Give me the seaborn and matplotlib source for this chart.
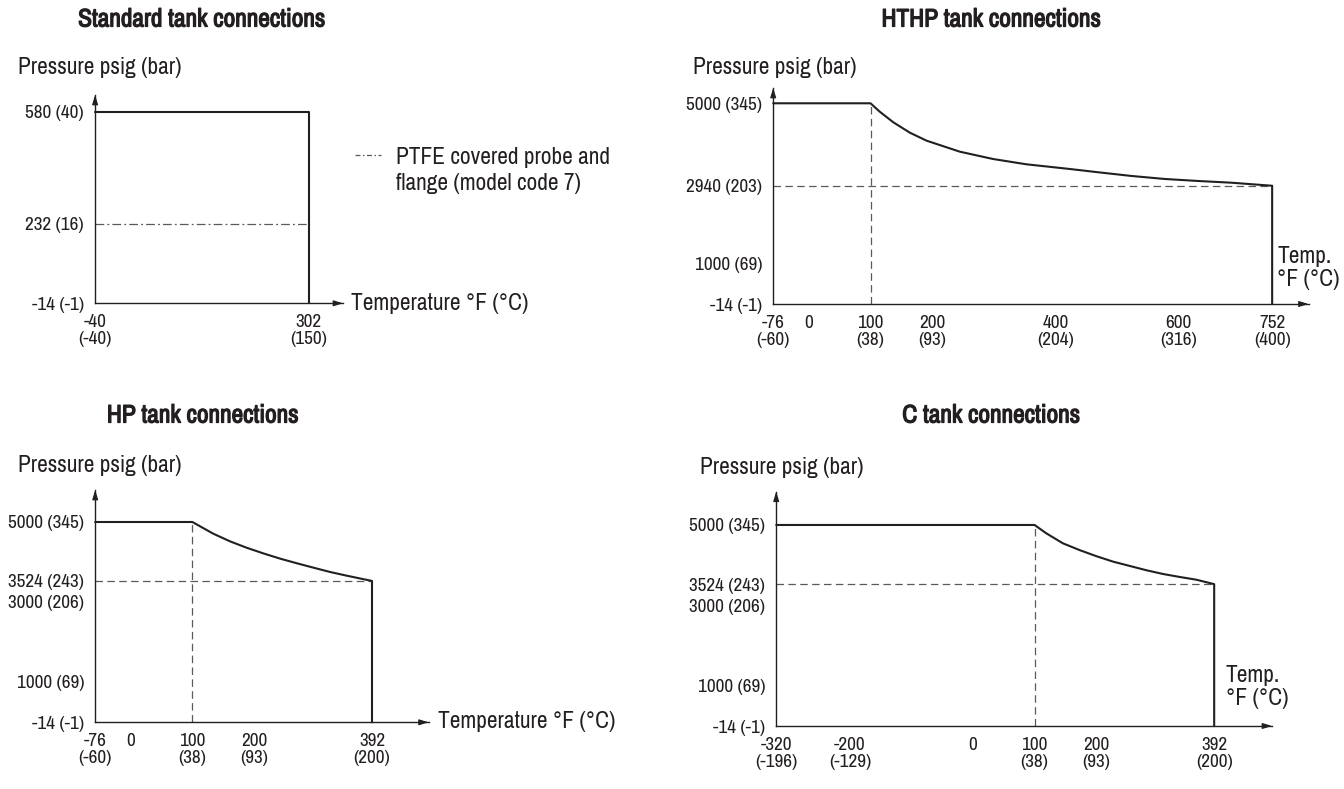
import numpy as np
import pandas as pd
import matplotlib
matplotlib.use("Agg")
import matplotlib.pyplot as plt
import matplotlib.patheffects as pe
import seaborn as sns
from matplotlib import font_manager as fm
from matplotlib.lines import Line2D

# ---------------- data ----------------
# Standard tank connections
std_temp = [-40, 302, 302]
std_press = [580, 580, -14]
std_ptfe_temp = [-40, 302]
std_ptfe_press = [232, 232]
std_xticks = [-40, 302]
std_xlabels = ["-40\n(-40)", "302\n(150)"]
std_yticks = [-14, 232, 580]
std_ylabels = ["-14 (-1)", "232 (16)", "580 (40)"]

# HTHP tank connections
hthp_temp = [-76, 100, 115, 137, 164, 191, 245, 299, 353, 424, 470, 524, 578, 632, 686, 752, 752]
hthp_press = [5000, 5000, 4790, 4525, 4265, 4066, 3791, 3608, 3476, 3358, 3276, 3184, 3109, 3059, 3016, 2940, -14]
hthp_xticks = [-76, 0, 100, 200, 400, 600, 752]
hthp_xlabels = ["-76\n(-60)", "0", "100\n(38)", "200\n(93)", "400\n(204)", "600\n(316)", "752\n(400)"]
hthp_yticks = [-14, 1000, 2940, 5000]
hthp_ylabels = ["-14 (-1)", "1000 (69)", "2940 (203)", "5000 (345)"]
hthp_yminor = [2000, 4000]

# HP tank connections
hp_temp = [-76, 100, 134, 161, 188, 215, 243, 270, 297, 324, 351, 392, 392]
hp_press = [5000, 5000, 4707, 4517, 4357, 4216, 4081, 3966, 3856, 3748, 3656, 3524, -14]
hp_xticks = [-76, 0, 100, 200, 392]
hp_xlabels = ["-76\n(-60)", "0", "100\n(38)", "200\n(93)", "392\n(200)"]
hp_yticks = [-14, 1000, 3000, 3524, 5000]
hp_ylabels = ["-14 (-1)", "1000 (69)", "3000 (206)", "3524 (243)", "5000 (345)"]
hp_yminor = [2000, 4000]

# C tank connections
c_temp = [-320, 100, 119, 146, 174, 201, 228, 255, 282, 309, 336, 363, 392, 392]
c_press = [5000, 5000, 4793, 4543, 4369, 4219, 4084, 3977, 3870, 3777, 3703, 3635, 3524, -14]
c_xticks = [-320, -200, 0, 100, 200, 392]
c_xlabels = ["-320\n(-196)", "-200\n(-129)", "0", "100\n(38)", "200\n(93)", "392\n(200)"]
c_yticks = [-14, 1000, 3000, 3524, 5000]
c_ylabels = ["-14 (-1)", "1000 (69)", "3000 (206)", "3524 (243)", "5000 (345)"]
c_yminor = [2000, 4000]

rated_temp = 100  # knee of the derating curves

# ---------------- style ----------------
sns.set_theme(style="white")

# prefer a narrow face (reference uses a condensed typeface); else Liberation Sans
FONT, SCALE = None, 1.0
for f in fm.fontManager.ttflist:
    if ("Narrow" in f.name or "Condensed" in f.name) and f.style == "normal":
        FONT, SCALE = f.name, 1.2
        break
if FONT is None:
    FONT = "Liberation Sans"
plt.rcParams["font.family"] = [FONT, "DejaVu Sans"]

INK = "#231f20"
DASH = "#5a5a5a"
W, H = 1344, 789
TICK_FS = 11.5 * SCALE
LAB_FS = 14 * SCALE
TITLE_FS = 15.2 * SCALE

fig = plt.figure(figsize=(W / 100, H / 100), dpi=100)
fig.patch.set_facecolor("white")


def px_rect(left, top, right, bottom):
    return [left / W, 1 - bottom / H, (right - left) / W, (bottom - top) / H]


def ftext(x, y, s, **kw):
    return fig.text(x / W, 1 - y / H, s, **kw)


def compress_scale(k):
    fwd = lambda x: np.where(np.asarray(x) < 0, np.asarray(x) * k, np.asarray(x))
    inv = lambda x: np.where(np.asarray(x) < 0, np.asarray(x) / k, np.asarray(x))
    return fwd, inv


def style_axes(ax, xlim, ylim, xticks, xlabels, yticks, ylabels, yminor=None, compress=None):
    if compress is not None:
        ax.set_xscale("function", functions=compress_scale(compress))
    ax.set_xlim(*xlim)
    ax.set_ylim(*ylim)
    ax.set_xticks(xticks)
    ax.set_xticklabels(xlabels, linespacing=1.08)
    ax.set_yticks(yticks)
    ax.set_yticklabels(ylabels)
    if yminor:
        ax.set_yticks(yminor, minor=True)
    for s in ["top", "right"]:
        ax.spines[s].set_visible(False)
    for s in ["left", "bottom"]:
        ax.spines[s].set_color(INK)
        ax.spines[s].set_linewidth(1.0)
    ax.tick_params(axis="both", which="both", direction="out", length=4, width=0.9,
                   color=INK, labelcolor=INK, labelsize=TICK_FS)
    ax.tick_params(axis="x", pad=4)
    ax.tick_params(axis="y", pad=4)
    ax.set_xlabel("")
    ax.set_ylabel("")
    ax.set_facecolor("none")
    ax.grid(False)
    arrow = dict(arrowstyle="-|>,head_length=0.55,head_width=0.17", color=INK, lw=0.9,
                 shrinkA=0, shrinkB=0, mutation_scale=10)
    ax.annotate("", xy=(1, 0), xycoords="axes fraction", xytext=(-6, 0),
                textcoords="offset points", arrowprops=arrow, annotation_clip=False)
    ax.annotate("", xy=(0, 1), xycoords="axes fraction", xytext=(0, -6),
                textcoords="offset points", arrowprops=arrow, annotation_clip=False)


def envelope(ax, temps, press):
    df = pd.DataFrame({"temp": temps, "press": press})
    sns.lineplot(data=df, x="temp", y="press", ax=ax, sort=False, estimator=None,
                 color=INK, lw=1.5, clip_on=False)
    for line in ax.get_lines():
        line.set_solid_joinstyle("round")


def guides(ax, xmin, tmax, pend, ymin):
    sns.lineplot(x=[rated_temp, rated_temp], y=[ymin, 5000], ax=ax, sort=False, estimator=None,
                 color=DASH, lw=0.9, linestyle=(0, (6, 3.5)))
    sns.lineplot(x=[xmin, tmax], y=[pend, pend], ax=ax, sort=False, estimator=None,
                 color=DASH, lw=0.9, linestyle=(0, (6, 3.5)))


# ---------------- Standard ----------------
ax1 = fig.add_axes(px_rect(95.1, 95, 343, 303.3))
sns.lineplot(x=std_ptfe_temp, y=std_ptfe_press, ax=ax1, sort=False, estimator=None,
             color=DASH, lw=0.9, linestyle=(0, (7, 2.5, 1.5, 2.5)))
envelope(ax1, std_temp, std_press)
style_axes(ax1, (-40, 357), (-14, 631.7), std_xticks, std_xlabels, std_yticks, std_ylabels)

# ---------------- HTHP ----------------
ax2 = fig.add_axes(px_rect(773.2, 88, 1308.5, 304))
guides(ax2, hthp_temp[0], hthp_temp[-1], hthp_press[-2], hthp_press[-1])
envelope(ax2, hthp_temp, hthp_press)
style_axes(ax2, (-76, 811), (-14, 5382), hthp_xticks, hthp_xlabels, hthp_yticks, hthp_ylabels,
           hthp_yminor, compress=0.763)

# ---------------- HP ----------------
ax3 = fig.add_axes(px_rect(95.2, 490, 428.6, 722.3))
guides(ax3, hp_temp[0], hp_temp[-1], hp_press[-2], hp_press[-1])
envelope(ax3, hp_temp, hp_press)
style_axes(ax3, (-76, 484), (-14, 5801), hp_xticks, hp_xlabels, hp_yticks, hp_ylabels,
           hp_yminor, compress=0.763)

# ---------------- C ----------------
ax4 = fig.add_axes(px_rect(776.2, 491.7, 1272, 726))
guides(ax4, c_temp[0], c_temp[-1], c_press[-2], c_press[-1])
envelope(ax4, c_temp, c_press)
style_axes(ax4, (-320, 486), (-14, 5830), c_xticks, c_xlabels, c_yticks, c_ylabels, c_yminor)

# ---------------- texts ----------------
bold = [pe.withStroke(linewidth=0.9, foreground=INK)]
ttl = dict(ha="center", va="center", fontsize=TITLE_FS, fontweight="bold", color=INK,
           path_effects=bold)
ftext(201.5, 19, "Standard tank connections", **ttl)
ftext(991, 19, "HTHP tank connections", **ttl)
ftext(202.5, 415, "HP tank connections", **ttl)
ftext(991, 415, "C tank connections", **ttl)

lab = dict(ha="left", va="center", fontsize=LAB_FS, color=INK)
for x, y in [(18, 68), (692.6, 68), (18, 465), (700, 468)]:
    ftext(x, y, "Pressure psig (bar)", **lab)

ftext(350.6, 303, "Temperature °F (°C)", **lab)
ftext(438, 722, "Temperature °F (°C)", **lab)
ftext(1277, 268, "Temp.\n°F (°C)", linespacing=1.17, **lab)
ftext(1226, 687, "Temp.\n°F (°C)", linespacing=1.17, **lab)

# legend for PTFE line (Standard panel)
fig.add_artist(Line2D([355 / W, 381 / W], [1 - 155 / H, 1 - 155 / H], color=DASH, lw=0.9,
                      linestyle=(0, (4, 2, 1.2, 2))))
ftext(396.5, 157, "PTFE covered probe and", **lab)
ftext(396.5, 183, "flange (model code 7)", **lab)

fig.savefig("out.png", dpi=100, facecolor="white")
